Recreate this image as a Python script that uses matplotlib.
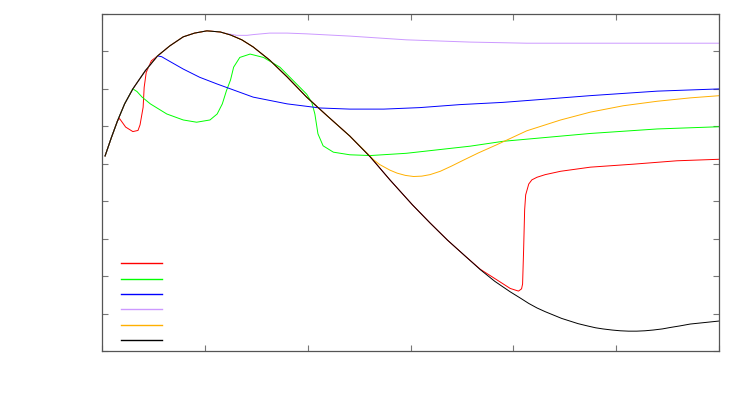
import matplotlib
matplotlib.use("Agg")
import matplotlib.pyplot as plt
from matplotlib.lines import Line2D

# values (x: 0..6, y: 0..9 tick units)
x_black = [0.03, 0.09, 0.15, 0.22, 0.30, 0.42, 0.54, 0.66, 0.79, 0.90, 1.02, 1.15, 1.25,
           1.36, 1.47, 1.63, 1.80, 1.99, 2.19, 2.41, 2.61, 2.80, 3.02, 3.19, 3.36, 3.53,
           3.68, 3.82, 3.97, 4.07, 4.15, 4.23, 4.31, 4.39, 4.47, 4.55, 4.63, 4.72, 4.80,
           4.87, 4.96, 5.04, 5.12, 5.20, 5.28, 5.36, 5.45, 5.53, 5.62, 5.72, 5.86, 6.00]
y_black = [5.21, 5.69, 6.14, 6.60, 7.00, 7.48, 7.88, 8.15, 8.39, 8.49, 8.55, 8.52, 8.44,
           8.31, 8.12, 7.77, 7.32, 6.78, 6.28, 5.74, 5.18, 4.57, 3.90, 3.42, 2.96, 2.54,
           2.17, 1.86, 1.58, 1.41, 1.27, 1.15, 1.05, 0.96, 0.87, 0.80, 0.73, 0.67, 0.62,
           0.59, 0.56, 0.54, 0.53, 0.53, 0.54, 0.56, 0.59, 0.63, 0.67, 0.72, 0.76, 0.80]

x_red = [0.03, 0.09, 0.15, 0.17, 0.23, 0.30, 0.35, 0.37, 0.40, 0.41, 0.43, 0.48, 0.54,
         0.66, 0.79, 0.90, 1.02, 1.15, 1.25, 1.36, 1.47, 1.63, 1.80, 1.99, 2.19, 2.41,
         2.61, 2.80, 3.02, 3.19, 3.36, 3.53, 3.68, 3.84, 3.97, 4.05, 4.08, 4.09, 4.10,
         4.11, 4.12, 4.15, 4.18, 4.23, 4.31, 4.46, 4.75, 5.17, 5.59, 6.00]
y_red = [5.21, 5.69, 6.14, 6.21, 5.98, 5.86, 5.89, 6.04, 6.51, 7.04, 7.44, 7.75, 7.88,
         8.15, 8.39, 8.49, 8.55, 8.52, 8.44, 8.31, 8.12, 7.77, 7.32, 6.78, 6.28, 5.74,
         5.18, 4.57, 3.90, 3.42, 2.96, 2.54, 2.18, 1.90, 1.67, 1.60, 1.66, 1.79, 2.70,
         3.77, 4.17, 4.46, 4.57, 4.64, 4.71, 4.80, 4.91, 4.99, 5.08, 5.12]

x_green = [0.03, 0.09, 0.15, 0.22, 0.30, 0.34, 0.39, 0.47, 0.63, 0.79, 0.92, 1.05, 1.12,
           1.17, 1.21, 1.25, 1.28, 1.34, 1.44, 1.57, 1.73, 1.86, 1.99, 2.04, 2.07, 2.10,
           2.15, 2.25, 2.41, 2.61, 2.96, 3.58, 3.90, 4.75, 5.40, 6.01]
y_green = [5.21, 5.69, 6.14, 6.60, 7.00, 6.93, 6.78, 6.60, 6.33, 6.17, 6.11, 6.17, 6.33,
           6.60, 6.95, 7.24, 7.58, 7.84, 7.93, 7.84, 7.58, 7.22, 6.86, 6.64, 6.33, 5.80,
           5.48, 5.31, 5.24, 5.22, 5.28, 5.47, 5.60, 5.81, 5.93, 5.99]

x_blue = [0.03, 0.09, 0.15, 0.22, 0.30, 0.42, 0.54, 0.58, 0.63, 0.79, 0.95, 1.12, 1.25,
          1.47, 1.80, 2.12, 2.41, 2.74, 3.09, 3.48, 3.90, 4.33, 4.75, 5.40, 6.01]
y_blue = [5.21, 5.69, 6.14, 6.60, 7.00, 7.48, 7.88, 7.86, 7.78, 7.53, 7.31, 7.13, 7.00,
          6.78, 6.60, 6.49, 6.46, 6.46, 6.50, 6.58, 6.64, 6.73, 6.82, 6.94, 7.00]

x_purple = [0.03, 0.09, 0.15, 0.22, 0.30, 0.42, 0.54, 0.66, 0.79, 0.90, 1.02, 1.15, 1.21,
            1.31, 1.41, 1.47, 1.63, 1.80, 1.99, 2.41, 2.96, 3.58, 4.13, 4.75, 6.01]
y_purple = [5.21, 5.69, 6.14, 6.60, 7.00, 7.48, 7.88, 8.15, 8.39, 8.49, 8.55, 8.52, 8.48,
            8.43, 8.43, 8.45, 8.49, 8.49, 8.47, 8.41, 8.31, 8.25, 8.22, 8.22, 8.22]

x_orange = [0.03, 0.09, 0.15, 0.22, 0.30, 0.42, 0.54, 0.66, 0.79, 0.90, 1.02, 1.15, 1.25,
            1.36, 1.47, 1.63, 1.80, 1.99, 2.19, 2.41, 2.58, 2.64, 2.70, 2.80, 2.87, 2.95,
            3.03, 3.11, 3.19, 3.29, 3.40, 3.51, 3.66, 3.84, 4.13, 4.46, 4.75, 5.07, 5.40,
            5.72, 6.01]
y_orange = [5.21, 5.69, 6.14, 6.60, 7.00, 7.48, 7.88, 8.15, 8.39, 8.49, 8.55, 8.52, 8.44,
            8.31, 8.12, 7.77, 7.32, 6.78, 6.28, 5.74, 5.28, 5.11, 4.98, 4.83, 4.75, 4.69,
            4.66, 4.67, 4.71, 4.80, 4.94, 5.09, 5.29, 5.51, 5.88, 6.17, 6.38, 6.55, 6.67,
            6.76, 6.82]

series = [
    (x_red, y_red, "#ff0000"),
    (x_green, y_green, "#00ff00"),
    (x_blue, y_blue, "#0000ff"),
    (x_purple, y_purple, "#cc99ff"),
    (x_orange, y_orange, "#ffb000"),
    (x_black, y_black, "#000000"),
]

fig = plt.figure(figsize=(7.47, 3.93), dpi=100)
ax = fig.add_axes([102 / 747, 42 / 393, 617 / 747, 337 / 393])

handles = []
for xs, ys, c in series:
    ax.plot(xs, ys, color=c, lw=0.7)
    handles.append(Line2D([], [], color=c, lw=1.0))

ax.set_xlim(0, 6)
ax.set_ylim(0, 9)
ax.set_xticks(range(0, 7))
ax.set_yticks(range(0, 10))
ax.tick_params(direction="in", length=4, width=0.8, color="#777777",
               top=True, right=True, labelleft=False, labelbottom=False)
for s in ax.spines.values():
    s.set_color("#555555")
    s.set_linewidth(0.9)

ax.legend(handles, [""] * 6, loc="lower left", bbox_to_anchor=(0.013, -0.018),
          frameon=False, fontsize=8, handlelength=3.7, labelspacing=0.48,
          borderaxespad=0.6, handletextpad=0.2)

fig.savefig("out.png", dpi=100)
